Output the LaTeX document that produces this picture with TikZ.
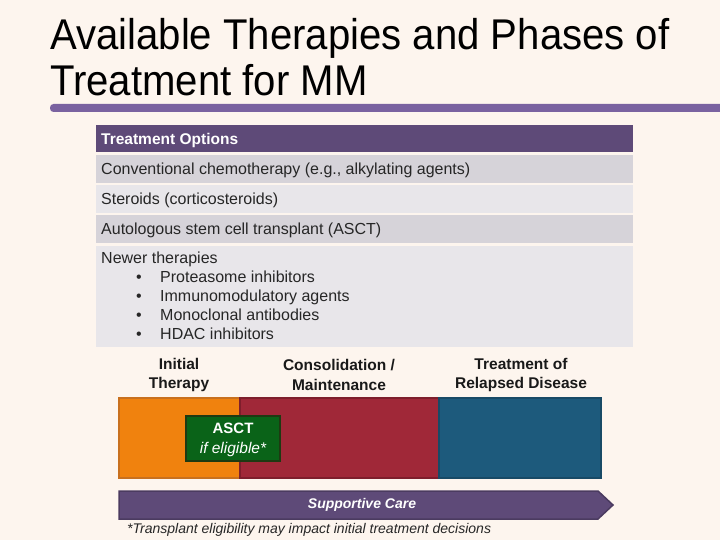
\documentclass[tikz,border=0pt]{standalone}
\usepackage{fontspec}
\setmainfont{Liberation Sans}
\begin{document}
\begin{tikzpicture}[x=1pt,y=-1pt,
  rowtxt/.style={anchor=base west,font=\fontsize{16}{19}\selectfont,text=black!85,inner sep=0pt},
  phase/.style={align=center,font=\bfseries\fontsize{15.5}{19.5}\selectfont,text=black!90},
  blk/.style={line width=2pt},
  ttl/.style={anchor=base west,inner sep=0pt,font=\fontsize{43}{48}\selectfont},
]
\definecolor{bg}{HTML}{FDF5EE}
\definecolor{hdpurple}{HTML}{5E4A78}
\definecolor{rowA}{HTML}{D6D3D9}
\definecolor{rowB}{HTML}{E8E6EA}
\definecolor{barpurple}{HTML}{7A62A0}
\definecolor{orangeF}{HTML}{F0820E}
\definecolor{orangeD}{HTML}{C8701E}
\definecolor{redF}{HTML}{A02838}
\definecolor{redD}{HTML}{7E1E2C}
\definecolor{blueF}{HTML}{1D5A7C}
\definecolor{blueD}{HTML}{184A66}
\definecolor{greenF}{HTML}{0A6318}
\definecolor{greenD}{HTML}{1E3A12}
\fill[bg] (0,0) rectangle (720,540);
\useasboundingbox (0,0) rectangle (720,540);
% title
\node[ttl] (t1) at (50,50) {\scalebox{0.933}[1]{Available Therapies and Phases of}};
\node[ttl] (t2) at (50,96) {\scalebox{0.933}[1]{Treatment for MM}};
\fill[barpurple, rounded corners=3.5pt] (50,104) rectangle (730,112);
% table
\fill[hdpurple] (96,125) rectangle (633,152);
\node[rowtxt,text=white,font=\bfseries\fontsize{15.5}{19}\selectfont] (h) at (101,144.5) {Treatment Options};
\fill[rowA] (96,155) rectangle (633,183);
\node[rowtxt] (r1) at (101,174.5) {Conventional chemotherapy (e.g., alkylating agents)};
\fill[rowB] (96,185) rectangle (633,213);
\node[rowtxt] (r2) at (101,204.5) {Steroids (corticosteroids)};
\fill[rowA] (96,215) rectangle (633,243);
\node[rowtxt] (r3) at (101,234.5) {Autologous stem cell transplant (ASCT)};
\fill[rowB] (96,246) rectangle (633,347);
\node[rowtxt] (r4) at (101,263.5) {Newer therapies};
\foreach \y/\t [count=\i] in {282.5/Proteasome inhibitors,301.5/Immunomodulatory agents,320.5/Monoclonal antibodies,339.5/HDAC inhibitors}{
  \node[rowtxt] (b\i) at (136,\y) {•};
  \node[rowtxt] (bt\i) at (160,\y) {\t};
}
% phase labels
\node[phase] (p1) at (179,375) {Initial\\Therapy};
\node[phase] (p2) at (339,375) {Consolidation /\\Maintenance};
\node[phase] (p3) at (521,375) {Treatment of\\Relapsed Disease};
% blocks
\draw[blk,fill=orangeF,draw=orangeD] (119,398) rectangle (240,478);
\draw[blk,fill=redF,draw=redD] (240,398) rectangle (439,478);
\draw[blk,fill=blueF,draw=blueD] (439,398) rectangle (601,478);
\draw[blk,fill=greenF,draw=greenD] (186,416) rectangle (280,461);
\node[text=white,font=\bfseries\fontsize{15}{18}\selectfont] (asct) at (233,428) {ASCT};
\node[text=white,font=\itshape\fontsize{15.5}{18}\selectfont] (elig) at (233,449) {if eligible*};
% supportive care arrow
\draw[line width=1.5pt,fill=hdpurple,draw=hdpurple!80!black] (119,491) -- (598,491) -- (613,505) -- (598,519) -- (119,519) -- cycle;
\node[text=white,font=\bfseries\itshape\fontsize{14}{16}\selectfont] (sc) at (362,505) {Supportive Care};
% footnote
\node[anchor=west,inner sep=0pt,font=\itshape\fontsize{14}{16}\selectfont,text=black!85] (fn) at (127,530) {*Transplant eligibility may impact initial treatment decisions};
\end{tikzpicture}
\end{document}
